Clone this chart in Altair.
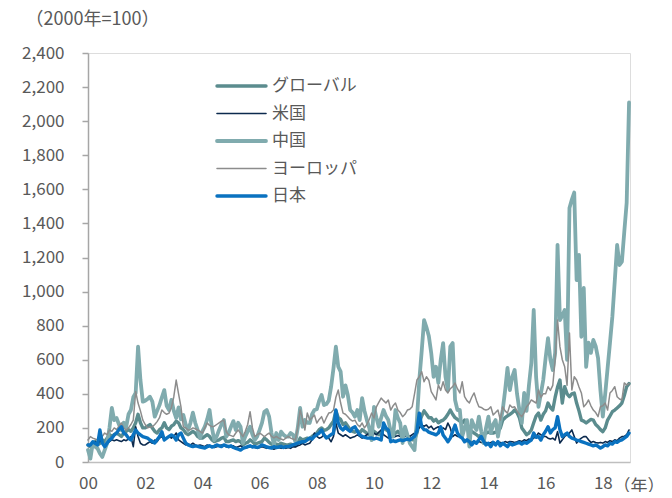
import altair as alt
import pandas as pd

series_names = ["グローバル", "米国", "中国", "ヨーロッパ", "日本"]
series_colors = ["#5B8C8E", "#0C2A4E", "#80ABAE", "#8C8C8C", "#0A72C0"]
series_widths = [3.4, 1.6, 3.8, 1.5, 3.4]

x_ticks = [2000, 2002, 2004, 2006, 2008, 2010, 2012, 2014, 2016, 2018]
y_ticks = [0, 200, 400, 600, 800, 1000, 1200, 1400, 1600, 1800, 2000, 2200, 2400]

# monthly values, Jan 2000 - Dec 2018 (12 per row)
global_vals = [
    100, 90, 110, 120, 100, 110, 130, 120, 140, 160, 150, 160,
    170, 160, 150, 170, 180, 190, 180, 200, 230, 280, 230, 200,
    200, 210, 220, 200, 180, 170, 190, 200, 230, 200, 190, 210,
    220, 240, 230, 200, 190, 170, 160, 170, 180, 170, 150, 140,
    140, 150, 160, 150, 130, 120, 125, 130, 140, 145, 120, 120,
    125, 130, 120, 125, 120, 100, 110, 115, 130, 120, 105, 110,
    115, 120, 140, 130, 115, 105, 100, 105, 100, 110, 105, 100,
    100, 105, 100, 95, 110, 140, 130, 135, 140, 135, 150, 160,
    170, 190, 200, 185, 190, 200, 220, 240, 300, 260, 250, 220,
    230, 210, 190, 180, 175, 185, 170, 190, 180, 170, 160, 150,
    180, 170, 160, 175, 200, 190, 180, 170, 150, 170, 180, 165,
    150, 160, 155, 140, 130, 130, 170, 230, 270, 300, 280, 260,
    260, 240, 250, 230, 240, 246, 260, 280, 305, 280, 260, 250,
    240, 230, 246, 200, 170, 180, 170, 160, 149, 160, 165, 170,
    175, 170, 170, 175, 180, 200, 246, 260, 270, 280, 290, 305,
    290, 260, 200, 180, 160, 170, 188, 230, 270, 287, 246, 280,
    300, 346, 320, 305, 380, 440, 481, 346, 442, 400, 383, 400,
    405, 346, 300, 246, 240, 229, 240, 250, 246, 220, 207, 190,
    178, 200, 246, 270, 295, 305, 317, 330, 346, 390, 442, 460,
]

us_vals = [
    100, 95, 110, 120, 100, 130, 110, 100, 110, 120, 130, 125,
    130, 125, 120, 130, 125, 135, 149, 90, 207, 150, 110, 100,
    100, 110, 120, 110, 129, 120, 140, 149, 130, 140, 150, 140,
    150, 170, 130, 120, 110, 100, 105, 100, 110, 100, 95, 100,
    95, 90, 100, 95, 90, 85, 90, 95, 100, 95, 90, 85,
    90, 95, 85, 90, 95, 85, 80, 85, 90, 95, 85, 80,
    85, 90, 85, 80, 85, 80, 75, 80, 85, 80, 85, 80,
    85, 80, 90, 88, 95, 100, 110, 100, 105, 110, 130, 170,
    150, 140, 145, 160, 150, 140, 119, 150, 229, 170, 160, 150,
    160, 150, 140, 145, 150, 159, 150, 140, 150, 160, 170, 160,
    170, 160, 175, 188, 160, 150, 140, 150, 145, 150, 155, 150,
    145, 150, 155, 150, 160, 170, 207, 200, 217, 210, 217, 200,
    210, 190, 200, 207, 190, 200, 190, 229, 200, 149, 160, 150,
    150, 140, 130, 120, 111, 120, 115, 111, 120, 115, 111, 115,
    111, 115, 120, 111, 110, 115, 111, 120, 115, 120, 119, 115,
    119, 125, 120, 130, 125, 135, 130, 140, 150, 170, 160, 150,
    150, 140, 135, 140, 129, 178, 111, 130, 150, 160, 170, 188,
    150, 111, 130, 140, 149, 149, 130, 115, 120, 115, 111, 115,
    111, 120, 115, 125, 120, 130, 125, 140, 149, 150, 160, 188,
]

china_vals = [
    70, 20, 110, 90, 80, 50, 30, 70, 110, 200, 317, 246,
    258, 220, 188, 230, 205, 280, 305, 380, 405, 677, 481, 354,
    360, 370, 383, 354, 266, 300, 334, 380, 422, 330, 305, 364,
    300, 258, 320, 250, 276, 220, 188, 230, 290, 230, 188, 141,
    180, 207, 250, 305, 200, 129, 150, 188, 220, 246, 149, 170,
    207, 240, 188, 230, 207, 111, 150, 180, 207, 160, 129, 150,
    188, 230, 295, 305, 266, 170, 100, 170, 129, 178, 160, 149,
    149, 170, 160, 119, 200, 317, 207, 246, 230, 229, 280, 305,
    310, 360, 393, 334, 340, 360, 442, 550, 677, 559, 530, 383,
    450, 393, 305, 290, 266, 305, 246, 375, 300, 246, 200, 129,
    324, 260, 207, 260, 305, 270, 246, 180, 149, 305, 260, 229,
    111, 207, 160, 111, 90, 70, 246, 481, 650, 833, 790, 740,
    640, 500, 559, 464, 600, 698, 500, 422, 677, 698, 364, 305,
    305, 149, 200, 246, 90, 246, 210, 188, 266, 180, 111, 200,
    266, 170, 220, 246, 149, 230, 305, 420, 552, 422, 500, 540,
    400, 305, 229, 405, 300, 450, 581, 892, 500, 324, 400, 481,
    610, 727, 600, 540, 640, 1274, 833, 860, 892, 599, 1491, 1540,
    1581, 1068, 1215, 735, 1021, 558, 700, 640, 716, 680, 610, 420,
    266, 400, 550, 700, 853, 1060, 1274, 1156, 1176, 1350, 1520, 2110,
]

europe_vals = [
    129, 149, 140, 135, 130, 140, 150, 170, 160, 188, 180, 200,
    190, 210, 229, 200, 188, 200, 220, 246, 413, 346, 300, 246,
    220, 200, 205, 207, 220, 237, 260, 305, 290, 280, 287, 320,
    383, 481, 400, 324, 207, 200, 188, 190, 200, 195, 188, 180,
    170, 200, 229, 215, 207, 210, 220, 230, 240, 246, 178, 160,
    155, 149, 170, 188, 170, 149, 180, 220, 295, 200, 149, 160,
    170, 160, 149, 160, 170, 150, 141, 150, 140, 135, 129, 140,
    150, 140, 135, 129, 200, 305, 250, 188, 287, 246, 260, 276,
    229, 250, 266, 229, 260, 287, 290, 305, 380, 422, 346, 287,
    280, 266, 250, 240, 246, 220, 207, 229, 200, 220, 250, 287,
    258, 324, 350, 375, 360, 346, 364, 305, 330, 346, 305, 290,
    266, 280, 305, 310, 324, 400, 481, 500, 530, 471, 500, 480,
    413, 390, 364, 452, 420, 471, 422, 405, 430, 442, 464, 430,
    405, 471, 383, 360, 346, 380, 405, 360, 324, 320, 310, 305,
    310, 324, 276, 290, 305, 246, 324, 300, 287, 334, 320, 324,
    300, 280, 266, 290, 324, 340, 364, 355, 346, 422, 380, 400,
    400, 442, 420, 450, 600, 833, 677, 600, 559, 450, 757, 422,
    500, 481, 440, 405, 324, 340, 364, 330, 305, 290, 266, 324,
    330, 346, 305, 405, 420, 442, 383, 370, 364, 464, 452, 460,
]

japan_vals = [
    100, 100, 119, 110, 100, 188, 111, 90, 110, 129, 140, 159,
    170, 190, 207, 170, 160, 140, 129, 160, 188, 170, 159, 149,
    145, 140, 129, 120, 111, 130, 149, 178, 129, 140, 150, 159,
    150, 129, 160, 170, 140, 111, 100, 95, 90, 95, 92, 88,
    85, 82, 90, 95, 88, 92, 100, 95, 90, 100, 95, 90,
    95, 85, 80, 75, 70, 80, 85, 90, 95, 88, 90, 85,
    90, 100, 95, 88, 85, 82, 90, 85, 88, 92, 85, 90,
    90, 95, 100, 105, 111, 115, 119, 119, 130, 141, 135, 150,
    160, 170, 188, 160, 141, 150, 160, 170, 305, 229, 200, 188,
    207, 190, 180, 200, 207, 180, 159, 150, 145, 141, 140, 141,
    135, 140, 135, 129, 229, 200, 188, 119, 125, 120, 125, 130,
    125, 130, 135, 129, 140, 150, 180, 287, 207, 190, 188, 175,
    170, 165, 159, 170, 207, 159, 140, 119, 140, 180, 217, 170,
    149, 140, 119, 130, 120, 100, 120, 110, 130, 149, 120, 100,
    110, 90, 115, 100, 120, 95, 110, 100, 90, 110, 100, 105,
    110, 115, 105, 115, 110, 120, 129, 170, 145, 150, 129, 160,
    180, 207, 170, 190, 200, 266, 190, 149, 160, 170, 150, 140,
    135, 129, 125, 120, 115, 110, 105, 100, 95, 100, 92, 82,
    90, 100, 95, 110, 105, 120, 115, 125, 130, 140, 150, 170,
]

all_vals = [global_vals, us_vals, china_vals, europe_vals, japan_vals]
rows = []
for name, vals in zip(series_names, all_vals):
    for i, v in enumerate(vals):
        rows.append({"series": name, "t": 2000 + i / 12.0, "value": v})
df = pd.DataFrame(rows)

FONT = "Noto Sans CJK JP"
TXT = "#595959"

color_scale = alt.Scale(domain=series_names, range=series_colors)
width_scale = alt.Scale(type="ordinal", domain=series_names, range=series_widths)

x_enc = alt.X(
    "t:Q",
    scale=alt.Scale(domain=[2000, 2018.95], nice=False, zero=False),
    axis=alt.Axis(
        values=x_ticks,
        labelExpr="datum.value < 2010 ? '0' + (datum.value - 2000) : '' + (datum.value - 2000)",
        labelFlush=False,
        ticks=False, grid=False, domainColor="#BFBFBF", domainWidth=1.5,
        labelPadding=13, labelFontSize=17, labelColor=TXT, labelFont=FONT,
        title="（年）", titleX=525, titleY=24, titleAlign="left", titleBaseline="middle",
        titleFontWeight="normal", titleFontSize=17, titleColor=TXT, titleFont=FONT,
    ),
)
y_enc = alt.Y(
    "value:Q",
    scale=alt.Scale(domain=[0, 2400], nice=False),
    axis=alt.Axis(
        values=y_ticks, format=",.0f", grid=False, labelFlush=False,
        tickSize=6, tickColor="#A6A6A6", domainColor="#A6A6A6", domainWidth=1.5, tickWidth=1.5,
        labelPadding=18, labelFontSize=17, labelColor=TXT, labelFont=FONT,
        title="（2000年=100）", titleAngle=0, titleX=-63, titleY=-34,
        titleAlign="left", titleBaseline="middle",
        titleFontWeight="normal", titleFontSize=18, titleColor=TXT, titleFont=FONT,
    ),
)

base = alt.Chart(df).encode(
    x=x_enc,
    y=y_enc,
    color=alt.Color("series:N", scale=color_scale, legend=None),
    strokeWidth=alt.StrokeWidth("series:N", scale=width_scale, legend=None),
)
line_layers = [
    base.transform_filter(alt.datum.series == n).mark_line(strokeJoin="round", strokeCap="round")
    for n in series_names
]
lines = alt.layer(*line_layers)

legend_df = pd.DataFrame({"series": series_names})
leg_y = alt.Y("series:N", sort=series_names,
              scale=alt.Scale(type="point", range=[33, 143], padding=0), axis=None)
leg_rule = alt.Chart(legend_df).mark_rule(strokeCap="round").encode(
    x=alt.value(129), x2=alt.value(178), y=leg_y,
    color=alt.Color("series:N", scale=color_scale, legend=None),
    strokeWidth=alt.StrokeWidth("series:N", scale=width_scale, legend=None),
)
leg_text = alt.Chart(legend_df).mark_text(
    align="left", baseline="middle", fontSize=17, color=TXT, font=FONT
).encode(x=alt.value(184), y=leg_y, text="series:N")
legend = alt.layer(leg_rule, leg_text)

chart = alt.layer(lines, legend).resolve_scale(y="independent").properties(
    width=542, height=409,
    autosize="none",
    padding={"left": 80, "top": 45, "right": 34, "bottom": 30},
).configure_view(stroke=None).configure(font=FONT)

chart.save("out.html", embed_options={"renderer": "svg", "actions": False})
